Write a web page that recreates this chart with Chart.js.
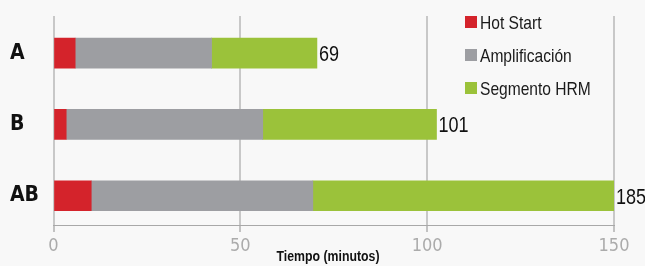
<!DOCTYPE html>
<html>
<head>
<meta charset="utf-8">
<script src="https://cdn.jsdelivr.net/npm/chart.js@4/dist/chart.umd.min.js"></script>
<style>
html,body{margin:0;padding:0;background:#f8f8f8;}
canvas{display:block;}
</style>
</head>
<body>
<canvas id="c" width="645" height="266"></canvas>
<script>
const categories = ['A', 'B', 'AB'];
const seriesNames = ['Hot Start', 'Amplificación', 'Segmento HRM'];
const hotStart = [5.8, 3.4, 10.1];
const amplificacion = [36.5, 52.6, 59.3];
const segmentoHRM = [28.2, 46.5, 115.6];
const totals = [69, 101, 185];
const xTicks = [0, 50, 100, 150];
const colors = ['#d4232b', '#9d9ea2', '#9bc23a'];
const FONT = '"DejaVu Sans Condensed", "Liberation Sans Narrow", sans-serif';
const NARROW = '"Liberation Sans", Arial, sans-serif';

const seriesValues = [hotStart, amplificacion, segmentoHRM];
const datasets = seriesValues.map((vals, i) => ({
  label: seriesNames[i],
  data: vals.map((v, j) => ({ x: v, y: j })),
  backgroundColor: colors[i],
  borderWidth: 0,
  barThickness: 30,
  clip: 0
}));

function narrowText(ctx, text, x, y, align) {
  const sx = 0.82;
  ctx.save();
  ctx.translate(x, y);
  ctx.scale(sx, 1);
  ctx.textAlign = align;
  ctx.fillText(text, 0, 0);
  ctx.restore();
}

const overlay = {
  id: 'overlay',
  afterDatasetsDraw(chart) {
    const ctx = chart.ctx;
    const xs = chart.scales.x, ys = chart.scales.y;
    const area = chart.chartArea;
    ctx.save();
    ctx.textBaseline = 'alphabetic';
    // totals
    ctx.font = '22px ' + NARROW;
    ctx.fillStyle = '#111';
    totals.forEach((t, j) => {
      let sum = 0;
      seriesValues.forEach(s => sum += s[j]);
      const px = Math.min(xs.getPixelForValue(sum), area.right);
      const py = ys.getPixelForValue(j);
      narrowText(ctx, String(t), px + 2, py + 8, 'left');
    });
    // legend
    ctx.font = '19px ' + NARROW;
    chart.data.datasets.forEach((ds, i) => {
      const by = 16 + i * 33;
      ctx.fillStyle = ds.backgroundColor;
      ctx.fillRect(465, by, 12, 12);
      ctx.fillStyle = '#1a1a1a';
      narrowText(ctx, ds.label, 480, by + 12.5, 'left');
    });
    // axis title
    ctx.font = 'bold 15px ' + NARROW;
    ctx.fillStyle = '#111';
    narrowText(ctx, 'Tiempo (minutos)', 328, 261, 'center');
    ctx.restore();
  }
};

new Chart(document.getElementById('c'), {
  type: 'bar',
  data: { datasets },
  options: {
    indexAxis: 'y',
    responsive: false,
    animation: false,
    layout: { padding: { left: 10, right: 31, top: 16, bottom: 0 } },
    plugins: { legend: { display: false }, tooltip: { enabled: false } },
    scales: {
      x: {
        type: 'linear',
        stacked: true,
        min: 0,
        max: 150,
        offset: false,
        afterBuildTicks: s => { s.ticks = xTicks.map(v => ({ value: v })); },
        afterFit: s => { s.height = 41; },
        grid: { color: '#c8c8c8', lineWidth: 2, tickLength: 7, tickColor: '#b0b0b0', tickWidth: 1.5, offset: false },
        border: { display: true, color: '#a8a8a8', width: 1 },
        ticks: { color: '#ababab', padding: 4, font: { family: FONT, size: 18 } }
      },
      y: {
        type: 'linear',
        stacked: true,
        reverse: true,
        offset: false,
        min: -0.52,
        max: 2.41,
        afterBuildTicks: s => { s.ticks = categories.map((c, i) => ({ value: i })); },
        afterFit: s => { s.width = 43.5; },
        grid: { display: false, offset: false },
        border: { display: false },
        ticks: {
          crossAlign: 'far',
          color: '#111',
          font: { family: FONT, size: 21, weight: 'bold' },
          callback: v => categories[v]
        }
      }
    }
  },
  plugins: [overlay]
});
</script>
</body>
</html>
